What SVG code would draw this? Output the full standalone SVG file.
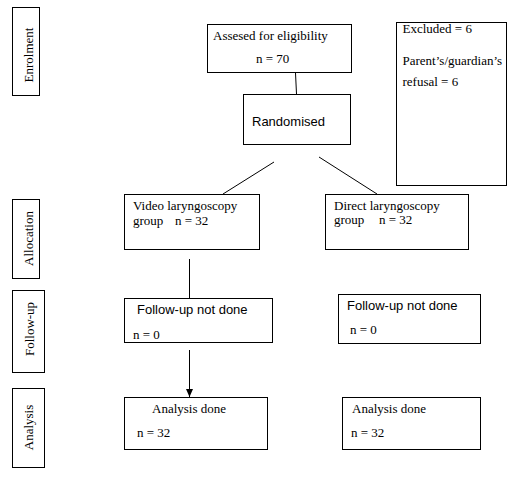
<svg xmlns="http://www.w3.org/2000/svg" width="511" height="477" viewBox="0 0 511 477">
<style>
rect{fill:#fff;stroke:#000;stroke-width:1}
.c line{stroke:#000;stroke-width:1}
text{font-family:"Liberation Serif","Times New Roman",serif;font-size:13px;fill:#000}
.s{font-family:"Liberation Sans",Arial,sans-serif}
.v{text-anchor:middle}
</style>
<defs>
<marker id="ah" viewBox="0 0 8 8" refX="8" refY="4" markerWidth="8" markerHeight="8" markerUnits="userSpaceOnUse" orient="auto">
<path d="M0,0.5 L8,4 L0,7.5 Z" fill="#000"/>
</marker>
</defs>
<rect width="511" height="477" style="stroke:none"/>
<g class="c" id="connectors">
<line x1="295.5" y1="73" x2="296.5" y2="94"/>
<line x1="274" y1="162" x2="223" y2="194"/>
<line x1="319" y1="157" x2="377" y2="194"/>
<line x1="189.5" y1="259" x2="189.5" y2="298"/>
<line x1="189.5" y1="350" x2="189.5" y2="397" marker-end="url(#ah)"/>
</g>
<g id="lbl-enrolment"><rect x="12.5" y="7.5" width="27" height="88"/><text class="v" transform="translate(33,55) rotate(-90)">Enrolment</text></g>
<g id="lbl-allocation"><rect x="12.5" y="199.5" width="27" height="79"/><text class="v" transform="translate(33,238.5) rotate(-90)">Allocation</text></g>
<g id="lbl-followup"><rect x="12.5" y="290.5" width="32" height="82"/><text class="v" transform="translate(33.5,329) rotate(-90)">Follow-up</text></g>
<g id="lbl-analysis"><rect x="12.5" y="388.5" width="32" height="79"/><text class="v" transform="translate(32.5,427.5) rotate(-90)">Analysis</text></g>
<g id="assessed"><rect x="207.5" y="24.5" width="144" height="48"/><text x="213" y="40">Assesed for eligibility</text><text x="256" y="63">n = 70</text></g>
<g id="excluded"><rect x="396.5" y="22.5" width="110" height="163"/><text x="402.5" y="33">Excluded = 6</text><text x="402.5" y="65">Parent’s/guardian’s</text><text x="402.5" y="86">refusal = 6</text></g>
<g id="randomised"><rect x="243.5" y="94.5" width="107" height="50"/><text class="s" x="252" y="126">Randomised</text></g>
<g id="video"><rect x="124.5" y="194.5" width="135" height="55"/><text x="133" y="210">Video laryngoscopy</text><text x="133" y="224.5">group</text><text x="175" y="224.5">n = 32</text></g>
<g id="direct"><rect x="325.5" y="194.5" width="143" height="55"/><text x="334" y="209.5">Direct laryngoscopy</text><text x="334" y="224">group</text><text x="379" y="224">n = 32</text></g>
<g id="followup-left"><rect x="124.5" y="298.5" width="148" height="44"/><text class="s" x="137" y="314">Follow-up not done</text><text x="133" y="339">n = 0</text></g>
<g id="followup-right"><rect x="338.5" y="294.5" width="142" height="49"/><text class="s" x="347" y="309.5">Follow-up not done</text><text x="350" y="333.5">n = 0</text></g>
<g id="analysis-left"><rect x="124.5" y="397.5" width="143" height="52"/><text x="152" y="413">Analysis done</text><text x="137" y="437">n = 32</text></g>
<g id="analysis-right"><rect x="342.5" y="397.5" width="138" height="52"/><text x="352" y="413">Analysis done</text><text x="351" y="437">n = 32</text></g>
</svg>
